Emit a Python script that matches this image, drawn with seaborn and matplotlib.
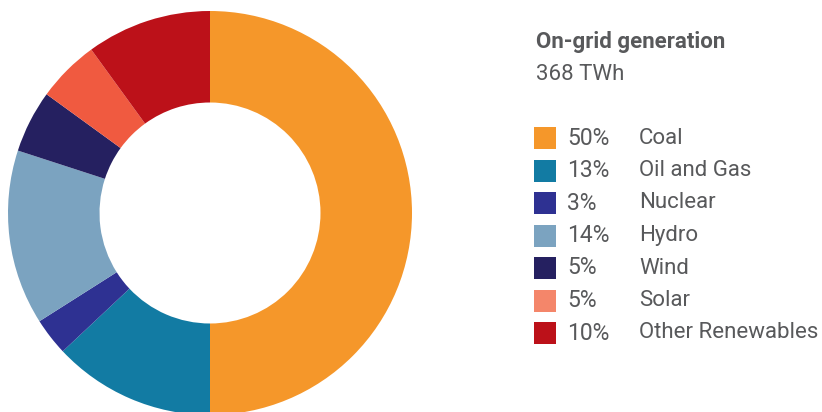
import numpy as np
import pandas as pd
import seaborn as sns
import matplotlib.pyplot as plt
from matplotlib.patches import Rectangle

sns.set_theme(style="white")
plt.rcParams['font.family'] = ['Roboto', 'DejaVu Sans']

sources = ["Coal", "Oil and Gas", "Nuclear", "Hydro", "Wind", "Solar", "Other Renewables"]
shares = [50, 13, 3, 14, 5, 5, 10]
pie_colors = ["#F5972A", "#127BA3", "#2E3192", "#7BA3C0", "#252060", "#F05A40", "#BC1119"]
legend_colors = ["#F5972A", "#127BA3", "#2E3192", "#7BA3C0", "#252060", "#F4866A", "#BC1119"]
title = "On-grid generation"
subtitle = "368 TWh"

data = pd.DataFrame({"source": sources, "share": shares})

W, H = 822, 412
fig = plt.figure(figsize=(W / 100, H / 100), dpi=100)

# donut
cx, cy, r = 210, 213, 202
ax = fig.add_axes([(cx - r) / W, (H - cy - r) / H, 2 * r / W, 2 * r / H])
ax.pie(data["share"], colors=pie_colors, startangle=90, counterclock=False,
       radius=1, wedgeprops=dict(width=0.453, linewidth=0))
ax.set_xlim(-1, 1)
ax.set_ylim(-1, 1)
ax.set_aspect("equal")
ax.axis("off")

grey = "#58595B"
def px(x, y):
    return x / W, 1 - y / H

fig.text(*px(536, 42), title, fontsize=16, fontweight="bold", color=grey, va="center")
fig.text(*px(536, 74), subtitle, fontsize=16, color=grey, va="center")

row0, step = 138, 32.5
for i, row in data.iterrows():
    y = row0 + i * step
    fig.patches.append(Rectangle(((534) / W, 1 - (y + 11) / H), 22 / W, 22 / H,
                                 transform=fig.transFigure, color=legend_colors[i], lw=0))
    fig.text(*px(567, y), f"{row['share']}%", fontsize=16.5, color=grey, va="center")
    fig.text(*px(639, y), row["source"], fontsize=16, color=grey, va="center")

fig.savefig("out.png", dpi=100)
